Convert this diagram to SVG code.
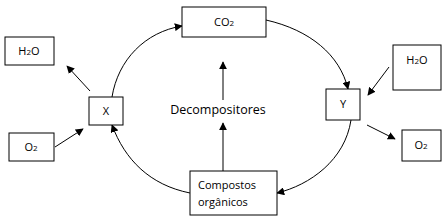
<svg xmlns="http://www.w3.org/2000/svg" width="448" height="216" viewBox="0 0 448 216">
<defs>
<style>
.box{fill:#fff;stroke:#000;stroke-width:1}
.t{font-family:"Open Sans","Liberation Sans",sans-serif;font-size:11px;fill:#000}
.c{text-anchor:middle}
.big{font-size:12.5px}
.ln{fill:none;stroke:#000;stroke-width:1}
</style>
<marker id="ah" viewBox="0 0 10 10" refX="9" refY="5" markerWidth="8" markerHeight="8" markerUnits="userSpaceOnUse" orient="auto">
<path d="M0,0 L10,5 L0,10 z" fill="#000"/>
</marker>
</defs>
<rect width="448" height="216" fill="#fff"/>
<g id="connectors">
<path class="ln" d="M112,97 C118,60 145,32 182,26" marker-end="url(#ah)"/>
<path class="ln" d="M266,20 C310,30 340,55 348,89" marker-end="url(#ah)"/>
<path class="ln" d="M351,120 C345,160 310,185 277,193" marker-end="url(#ah)"/>
<path class="ln" d="M190,193 C150,185 125,160 112,125" marker-end="url(#ah)"/>
<line class="ln" x1="223" y1="171" x2="223" y2="123" marker-end="url(#ah)"/>
<line class="ln" x1="223" y1="100" x2="223" y2="62" marker-end="url(#ah)"/>
<line class="ln" x1="90" y1="91" x2="67" y2="66" marker-end="url(#ah)"/>
<line class="ln" x1="55" y1="147" x2="83" y2="129" marker-end="url(#ah)"/>
<line class="ln" x1="389" y1="67" x2="368" y2="95" marker-end="url(#ah)"/>
<line class="ln" x1="367" y1="125" x2="395" y2="139" marker-end="url(#ah)"/>
</g>
<g id="co2"><rect class="box" x="182" y="7" width="84" height="30"/><text class="t c" x="224" y="26">CO<tspan style="font-size:8px">2</tspan></text></g>
<g id="h2o-left"><rect class="box" x="5" y="37" width="49" height="28"/><text class="t c" x="29" y="55">H<tspan style="font-size:8px">2</tspan>O</text></g>
<g id="x"><rect class="box" x="89" y="97" width="34" height="28"/><text class="t c" x="106" y="115">X</text></g>
<g id="y"><rect class="box" x="326" y="89" width="34" height="31"/><text class="t c" x="343" y="108">Y</text></g>
<g id="h2o-right"><rect class="box" x="393" y="45" width="48" height="45"/><text class="t c" x="417" y="64">H<tspan style="font-size:8px">2</tspan>O</text></g>
<g id="o2-left"><rect class="box" x="9" y="133" width="45" height="28"/><text class="t c" x="31" y="151">O<tspan style="font-size:8px">2</tspan></text></g>
<g id="o2-right"><rect class="box" x="402" y="130" width="39" height="31"/><text class="t c" x="421" y="149">O<tspan style="font-size:8px">2</tspan></text></g>
<g id="decompositores"><text class="t c big" x="218" y="114">Decompositores</text></g>
<g id="compostos"><rect class="box" x="190" y="171" width="87" height="44"/><text class="t" x="198" y="189">Compostos</text><text class="t" x="198" y="206">orgânicos</text></g>
</svg>
